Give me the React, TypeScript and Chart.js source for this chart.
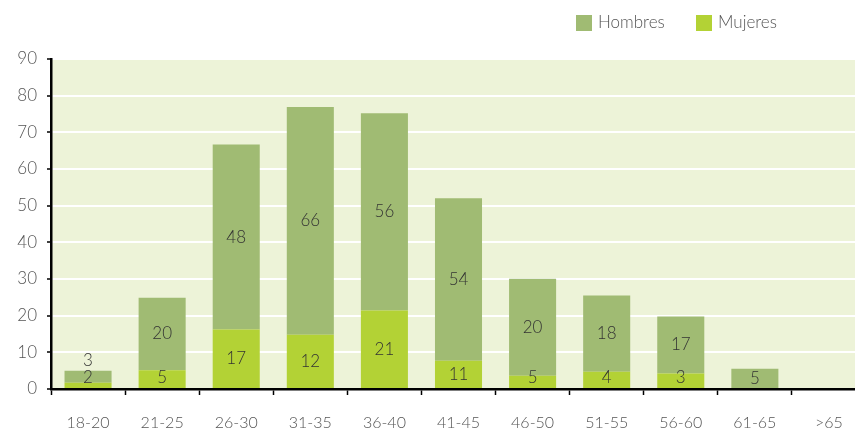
import React, { useEffect, useRef } from "react";
import { Chart, registerables } from "chart.js";

Chart.register(...registerables);

const categories = ["18-20", "21-25", "26-30", "31-35", "36-40", "41-45", "46-50", "51-55", "56-60", "61-65", ">65"];
const mujeresValues = [1.7, 5.1, 16.2, 14.8, 21.4, 7.7, 3.6, 4.7, 4.2, 0, 0];
const hombresValues = [3.3, 19.8, 50.5, 62.1, 53.8, 44.3, 26.5, 20.8, 15.6, 5.5, 0];
const mujeresLabels = ["2", "5", "17", "12", "21", "11", "5", "4", "3", "", ""];
const hombresLabels = ["3", "20", "48", "66", "56", "54", "20", "18", "17", "5", ""];
const yMax = 90;
const yStep = 10;

const HOMBRES_COLOR = "#a0bb73";
const MUJERES_COLOR = "#b3d235";
const PLOT_BG = "#edf3d8";
const FONT = "Lato, 'Open Sans', sans-serif";

const bgPlugin = {
  id: "plotBg",
  beforeDraw(chart: any) {
    const { ctx, chartArea } = chart;
    ctx.save();
    ctx.fillStyle = PLOT_BG;
    ctx.fillRect(chartArea.left, chartArea.top, chartArea.right - chartArea.left, chartArea.bottom - chartArea.top);
    ctx.restore();
  },
};

const labelPlugin = {
  id: "segLabels",
  afterDatasetsDraw(chart: any) {
    const { ctx } = chart;
    ctx.save();
    ctx.font = `300 17px ${FONT}`;
    ctx.fillStyle = "#333";
    ctx.textAlign = "center";
    ctx.textBaseline = "middle";
    chart.data.datasets.forEach((ds: any, di: number) => {
      const meta = chart.getDatasetMeta(di);
      meta.data.forEach((bar: any, i: number) => {
        const txt = ds.segLabels[i];
        if (!txt) return;
        const top = Math.min(bar.y, bar.base);
        const base = Math.max(bar.y, bar.base);
        let ty = (top + base) / 2;
        if (di === 0) {
          ty = Math.min(ty, base - 10);
        } else if (base - top < 16) {
          ty = top - 10;
        }
        ctx.fillText(txt, bar.x, ty);
      });
    });
    ctx.restore();
  },
};

const legendPlugin = {
  id: "customLegend",
  afterDraw(chart: any) {
    const { ctx } = chart;
    const items = [
      { label: "Hombres", color: HOMBRES_COLOR, x: 576 },
      { label: "Mujeres", color: MUJERES_COLOR, x: 696 },
    ];
    ctx.save();
    ctx.font = `300 17px ${FONT}`;
    ctx.textBaseline = "middle";
    ctx.textAlign = "left";
    items.forEach((it) => {
      ctx.fillStyle = it.color;
      ctx.fillRect(it.x, 15, 16, 16);
      ctx.fillStyle = "#555";
      ctx.fillText(it.label, it.x + 22, 23);
    });
    ctx.restore();
  },
};

export default function App() {
  const ref = useRef<HTMLCanvasElement | null>(null);
  useEffect(() => {
    if (!ref.current) return;
    const chart = new Chart(ref.current, {
      type: "bar",
      data: {
        labels: categories,
        datasets: [
          {
            label: "Mujeres",
            data: mujeresValues,
            backgroundColor: MUJERES_COLOR,
            barPercentage: 0.635,
            categoryPercentage: 1,
            segLabels: mujeresLabels,
          } as any,
          {
            label: "Hombres",
            data: hombresValues,
            backgroundColor: HOMBRES_COLOR,
            barPercentage: 0.635,
            categoryPercentage: 1,
            segLabels: hombresLabels,
          } as any,
        ],
      },
      options: {
        animation: false,
        responsive: true,
        maintainAspectRatio: false,
        layout: { padding: { top: 59, right: 0, bottom: 0, left: 0 } },
        plugins: {
          legend: { display: false },
          tooltip: { enabled: false },
        },
        scales: {
          x: {
            stacked: true,
            afterFit(scale: any) {
              scale.height = 41;
            },
            grid: {
              offset: true,
              drawOnChartArea: false,
              drawTicks: true,
              tickLength: 6,
              tickColor: "#000",
              tickWidth: 1.5,
            },
            border: { color: "#000", width: 2.5 },
            ticks: {
              padding: 18,
              color: "#555",
              font: { family: FONT, size: 16, weight: "300" },
              maxRotation: 0,
              autoSkip: false,
            },
          },
          y: {
            stacked: true,
            min: 0,
            max: yMax,
            afterFit(scale: any) {
              scale.width = 51;
            },
            grid: {
              color: "#ffffff",
              lineWidth: 2,
              drawTicks: true,
              tickLength: 4,
              tickColor: "#000",
              tickWidth: 1.5,
            },
            border: { color: "#000", width: 2.5 },
            ticks: {
              stepSize: yStep,
              padding: 10,
              color: "#555",
              font: { family: FONT, size: 17, weight: "300" },
            },
          },
        },
      },
      plugins: [bgPlugin, labelPlugin, legendPlugin],
    });
    return () => chart.destroy();
  }, []);

  return (
    <div
      style={{
        position: "fixed",
        left: 0,
        top: 0,
        width: 855,
        height: 430,
        overflow: "hidden",
        background: "#fff",
      }}
    >
      <div style={{ position: "relative", width: 866, height: 430 }}>
        <canvas ref={ref} />
      </div>
    </div>
  );
}
